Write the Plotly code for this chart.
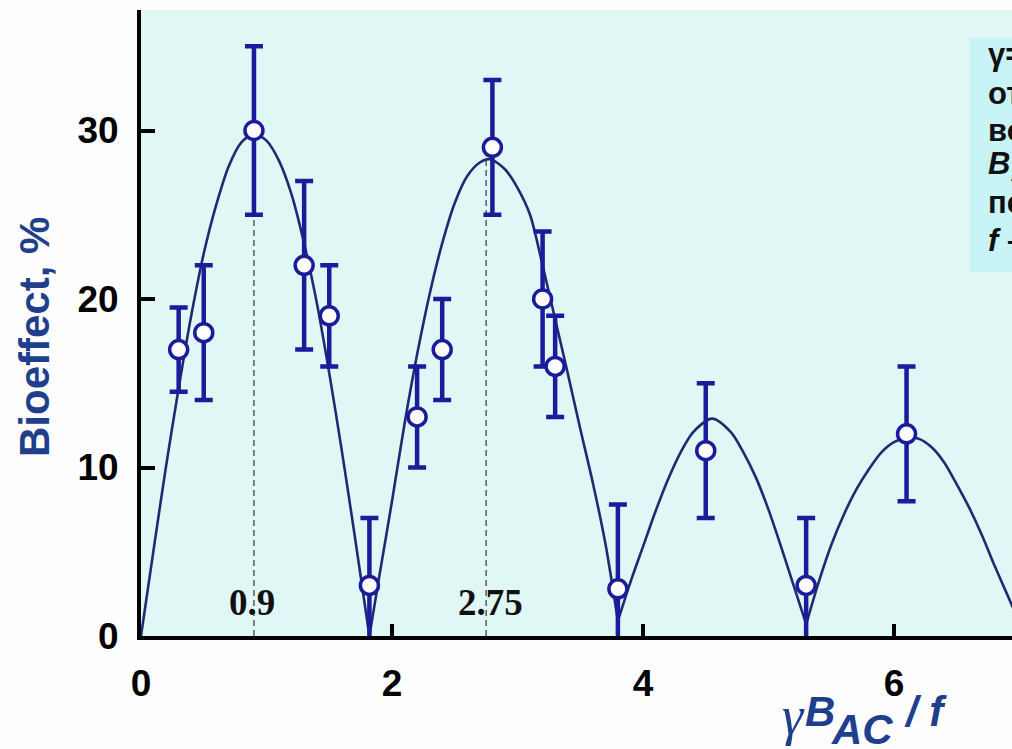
import plotly.graph_objects as go

# ---- data ----
pts_x = [0.3, 0.5, 0.9, 1.3, 1.5, 1.82, 2.2, 2.4, 2.8, 3.2, 3.3, 3.8, 4.5, 5.3, 6.1]
pts_y = [17, 18, 30, 22, 19, 3, 13, 17, 29, 20, 16, 2.8, 11, 3, 12]
pts_err = [2.5, 4, 5, 5, 3, 4, 3, 3, 4, 4, 3, 5, 4, 4, 4]

curve_x = [0, 0.1, 0.2, 0.3, 0.4, 0.5, 0.6, 0.7, 0.8, 0.9, 1.0, 1.1, 1.2, 1.3, 1.4, 1.5, 1.6, 1.7, 1.82,
           1.9, 2.0, 2.1, 2.2, 2.3, 2.4, 2.5, 2.6, 2.7, 2.78, 2.9, 3.0, 3.1, 3.2, 3.3, 3.4, 3.5, 3.6, 3.7, 3.8,
           3.9, 4.0, 4.1, 4.2, 4.3, 4.4, 4.55, 4.7, 4.8, 4.9, 5.0, 5.1, 5.2, 5.3,
           5.4, 5.5, 5.6, 5.7, 5.8, 5.9, 6.0, 6.12, 6.2, 6.3, 6.4, 6.5, 6.6, 6.7, 6.8, 6.9, 7.0]
curve_y = [0, 5.1, 10.1, 14.7, 19.0, 22.7, 25.6, 27.9, 29.3, 29.8, 29.4, 28.2, 26.2, 23.3, 19.8, 15.6, 11.0, 6.1, 0,
           3.6, 8.0, 12.6, 16.7, 20.3, 23.3, 25.7, 27.3, 28.1, 28.3, 27.7, 26.6, 25.0, 22.0, 18.8, 15.6, 12.3, 9.1, 5.5, 0.9,
           3.2, 5.3, 7.4, 9.3, 10.9, 12.1, 12.9, 12.1, 10.9, 9.4, 7.5, 5.3, 3.0, 0.7,
           3.2, 5.4, 7.2, 8.7, 9.9, 10.9, 11.5, 11.8, 11.7, 11.2, 10.3, 9.0, 7.6, 6.0, 4.2, 2.5, 0.8]

peak_x = [0.9, 2.75]
peak_y = [29.8, 28.4]
peak_labels = ["0.9", "2.75"]

x_ticks = [0, 2, 4, 6]
y_ticks = [0, 10, 20, 30]

note_lines = ["γ= гиромагнитное", "отношение", "водорода;", "<i>B</i><sub>AC</sub> – амплитуда",
              "переменного поля;", "<i>f</i> – частота"]

# ---- styles ----
W, H = 1012, 749
L, R, T, B = 141, 0, 10, 113
PW, PH = W - L - R, H - T - B

def px2paper_x(px):
    return (px - L) / PW

def px2paper_y(py):
    return (H - B - py) / PH

navy = "#1b1b9b"
curve_col = "#1f2b70"
title_col = "#1d3f8c"
sans = "Liberation Sans"
serif = "Liberation Serif"

fig = go.Figure()

for xv, yv in zip(peak_x, peak_y):
    fig.add_trace(go.Scatter(x=[xv, xv], y=[0, yv], mode="lines",
                             line=dict(color="#444444", width=1.3, dash="6px,4px"),
                             showlegend=False, hoverinfo="skip"))

# split the curve into arches at its local minima, so the cusps stay sharp
cuts = [0] + [i for i in range(1, len(curve_y) - 1)
              if curve_y[i] < curve_y[i - 1] and curve_y[i] < curve_y[i + 1]] + [len(curve_y) - 1]
for a, b in zip(cuts[:-1], cuts[1:]):
    fig.add_trace(go.Scatter(x=curve_x[a:b + 1], y=curve_y[a:b + 1], mode="lines",
                             line=dict(color=curve_col, width=2.6, shape="spline", smoothing=0.8),
                             showlegend=False))

fig.add_trace(go.Scatter(x=pts_x, y=pts_y, mode="markers",
                         marker=dict(symbol="circle", size=18, color="white",
                                     line=dict(color=navy, width=3.5)),
                         error_y=dict(type="data", array=pts_err, visible=True,
                                      color=navy, thickness=4.5, width=9),
                         showlegend=False))

annotations = []
for xv, lab in zip(peak_x, peak_labels):
    annotations.append(dict(x=xv, y=2.0, xref="x", yref="y", text="<b>" + lab + "</b>",
                            showarrow=False, xshift=-2 if lab == "0.9" else 4,
                            font=dict(family=serif, size=37, color="#111111")))

# y title
annotations.append(dict(x=px2paper_x(34), y=px2paper_y(337), xref="paper", yref="paper",
                        text="Bioeffect, %", textangle=-90, showarrow=False,
                        xanchor="center", yanchor="middle",
                        font=dict(family=sans, size=42, weight=700, color=title_col)))
# x title pieces
annotations.append(dict(x=px2paper_x(793), y=px2paper_y(716), xref="paper", yref="paper",
                        text="<i>γ</i>", showarrow=False, xanchor="center", yanchor="middle",
                        font=dict(family=serif, size=54, color=title_col)))
annotations.append(dict(x=px2paper_x(820), y=px2paper_y(711), xref="paper", yref="paper",
                        text="<b><i>B</i></b>", showarrow=False, xanchor="center", yanchor="middle",
                        font=dict(family=sans, size=42, color=title_col)))
annotations.append(dict(x=px2paper_x(862), y=px2paper_y(729), xref="paper", yref="paper",
                        text="<b><i>AC</i></b>", showarrow=False, xanchor="center", yanchor="middle",
                        font=dict(family=sans, size=42, color=title_col)))
annotations.append(dict(x=px2paper_x(925), y=px2paper_y(711), xref="paper", yref="paper",
                        text="<b><i>/ f</i></b>", showarrow=False, xanchor="center", yanchor="middle",
                        font=dict(family=sans, size=42, color=title_col)))

# note box text
note_y = [55, 93, 130, 166, 203, 240]
for line, ny in zip(note_lines, note_y):
    annotations.append(dict(x=px2paper_x(986), y=px2paper_y(ny), xref="paper", yref="paper",
                            text="<b>" + line + "</b>", showarrow=False,
                            xanchor="left", yanchor="middle",
                            font=dict(family=sans, size=31, color="#111111")))

shapes = [dict(type="rect", xref="paper", yref="paper",
               x0=px2paper_x(970), x1=1.2, y0=px2paper_y(272), y1=px2paper_y(38),
               fillcolor="#c8f3f7", line=dict(width=0), layer="below")]

tickfont = dict(family=sans, size=37, weight=700, color="black")

fig.update_layout(
    width=W, height=H, autosize=False,
    margin=dict(l=L, r=R, t=T, b=B, pad=0),
    paper_bgcolor="#fefefe", plot_bgcolor="#dff7f5",
    showlegend=False,
    annotations=annotations, shapes=shapes,
    xaxis=dict(range=[0, PW / 125.5], showline=True, linecolor="black", linewidth=4,
               ticks="inside", ticklen=12, tickwidth=4, tickcolor="black",
               tickvals=x_ticks, ticktext=[str(v) for v in x_ticks], showgrid=False, zeroline=False,
               tickfont=tickfont, ticklabelstandoff=12, automargin=False, mirror=False),
    yaxis=dict(range=[0, PH / 16.85], showline=True, linecolor="black", linewidth=4,
               ticks="inside", ticklen=14, tickwidth=4, tickcolor="black",
               tickvals=y_ticks, ticktext=[str(v) for v in y_ticks], showgrid=False, zeroline=False,
               tickfont=tickfont, ticklabelstandoff=11, automargin=False),
)

fig.write_html("out.html")
